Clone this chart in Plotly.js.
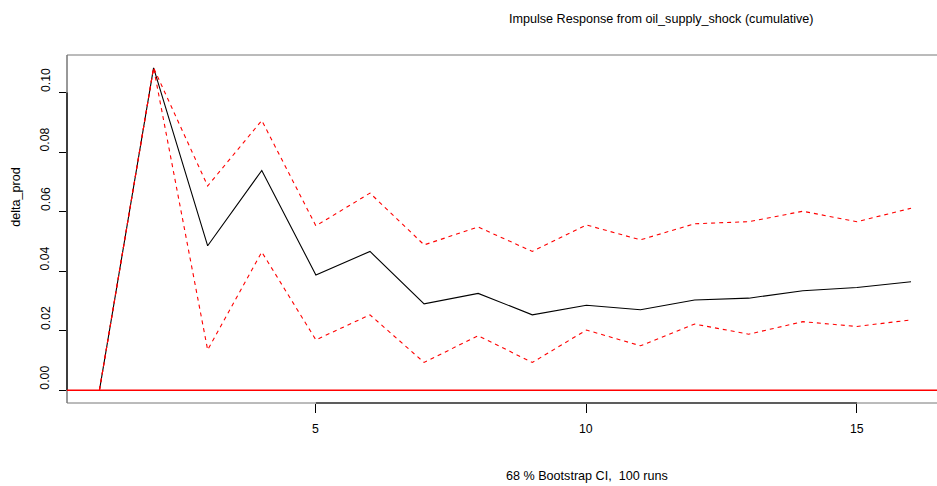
<!DOCTYPE html>
<html>
<head>
<meta charset="utf-8">
<script src="https://cdn.plot.ly/plotly-3.0.1.min.js"></script>
<style>
  html, body { margin: 0; padding: 0; background: #fff; }
  #chart { width: 937px; height: 486px; }
</style>
</head>
<body>
<div id="chart"></div>
<script>
// Cumulative impulse response of delta_prod to an oil supply shock
const horizon = [1, 2, 3, 4, 5, 6, 7, 8, 9, 10, 11, 12, 13, 14, 15, 16];
const irf = [0, 0.1083, 0.0485, 0.0738, 0.0387, 0.0466, 0.0290, 0.0325,
             0.0253, 0.0285, 0.0270, 0.0303, 0.0309, 0.0334, 0.0345, 0.0364];
const upperCI = [0, 0.1083, 0.0686, 0.0906, 0.0552, 0.0662, 0.0488, 0.0548,
                 0.0466, 0.0555, 0.0505, 0.0559, 0.0566, 0.0601, 0.0566, 0.0611];
const lowerCI = [0, 0.1083, 0.0135, 0.0464, 0.0169, 0.0253, 0.0093, 0.0183,
                 0.0093, 0.0202, 0.0149, 0.0222, 0.0188, 0.0230, 0.0214, 0.0236];

const xTicks = [5, 10, 15];
const yTicks = [0, 0.02, 0.04, 0.06, 0.08, 0.10];
const yTickText = ['0.00', '0.02', '0.04', '0.06', '0.08', '0.10'];

const titleText = 'Impulse Response from oil_supply_shock (cumulative)';
const yLabel = 'delta_prod';
const footText = '68 % Bootstrap CI,  100 runs';

const FONT = 'Liberation Sans, Arial, Helvetica, sans-serif';
const frameColor = '#333333';

const traces = [
  { x: horizon, y: irf, type: 'scatter', mode: 'lines',
    line: { color: '#000000', width: 1.1 }, hoverinfo: 'skip' },
  { x: horizon, y: upperCI, type: 'scatter', mode: 'lines',
    line: { color: '#FF0000', width: 1.1, dash: '4px,4px' }, hoverinfo: 'skip' },
  { x: horizon, y: lowerCI, type: 'scatter', mode: 'lines',
    line: { color: '#FF0000', width: 1.1, dash: '4px,4px' }, hoverinfo: 'skip' }
];

const annotations = [];
// rotated y tick labels
yTicks.forEach((v, i) => {
  annotations.push({ xref: 'paper', yref: 'y', x: 0, y: v, xshift: -21.5, yshift: 12,
    text: yTickText[i], textangle: -90, showarrow: false,
    xanchor: 'center', yanchor: 'middle',
    font: { family: FONT, size: 12.3, color: '#000' } });
});
// x tick labels
xTicks.forEach(v => {
  annotations.push({ xref: 'x', yref: 'paper', x: v, y: 0, yshift: -25.5,
    text: String(v), showarrow: false, xanchor: 'center', yanchor: 'middle',
    font: { family: FONT, size: 12.3, color: '#000' } });
});
annotations.push({ xref: 'paper', yref: 'paper', x: 0.683, y: 1, yshift: 36,
  text: titleText, showarrow: false, xanchor: 'center', yanchor: 'middle',
  font: { family: FONT, size: 12.6, color: '#000' } });
annotations.push({ xref: 'paper', yref: 'paper', x: 0, y: 0.5925, xshift: -51,
  text: yLabel, textangle: -90, showarrow: false, xanchor: 'center', yanchor: 'middle',
  font: { family: FONT, size: 12.6, color: '#000' } });
annotations.push({ xref: 'paper', yref: 'paper', x: 0.598, y: 0, yshift: -73.3,
  text: footText, showarrow: false, xanchor: 'center', yanchor: 'middle',
  font: { family: FONT, size: 12.6, color: '#000' } });

const shapes = [
  // plot frame: left, top and bottom sides
  { type: 'line', xref: 'paper', yref: 'paper', x0: 0, x1: 0, y0: 0, y1: 1,
    line: { color: frameColor, width: 1 } },
  { type: 'line', xref: 'paper', yref: 'paper', x0: 0, x1: 1, y0: 1, y1: 1,
    line: { color: '#777777', width: 1 } },
  { type: 'line', xref: 'paper', yref: 'paper', x0: 0, x1: 1, y0: 0, y1: 0,
    line: { color: '#777777', width: 1 } },
  // axis lines spanning the tick range
  { type: 'line', xref: 'x', yref: 'paper', x0: xTicks[0], x1: xTicks[xTicks.length - 1], y0: 0, y1: 0,
    line: { color: '#000000', width: 1.2 } },
  { type: 'line', xref: 'paper', yref: 'y', x0: 0, x1: 0, y0: yTicks[0], y1: yTicks[yTicks.length - 1],
    line: { color: '#000000', width: 1.2 } },
  // zero reference line
  { type: 'line', xref: 'paper', yref: 'y', x0: 0, x1: 1, y0: 0, y1: 0,
    line: { color: '#FF0000', width: 1.5 }, layer: 'above' }
];

const layout = {
  width: 937, height: 486,
  margin: { l: 67, r: 0, t: 55, b: 83 },
  paper_bgcolor: '#ffffff', plot_bgcolor: '#ffffff',
  showlegend: false,
  xaxis: {
    range: [0.4, 16.48], tickvals: xTicks, showticklabels: false,
    ticks: 'outside', ticklen: 9, tickcolor: '#000', tickwidth: 1,
    showgrid: false, zeroline: false, showline: false, fixedrange: true
  },
  yaxis: {
    range: [-0.00432, 0.1126], tickvals: yTicks, showticklabels: false,
    ticks: 'outside', ticklen: 7, tickcolor: '#000', tickwidth: 1,
    showgrid: false, zeroline: false, showline: false, fixedrange: true
  },
  annotations: annotations,
  shapes: shapes
};

Plotly.newPlot('chart', traces, layout, { staticPlot: true, displayModeBar: false });
</script>
</body>
</html>
